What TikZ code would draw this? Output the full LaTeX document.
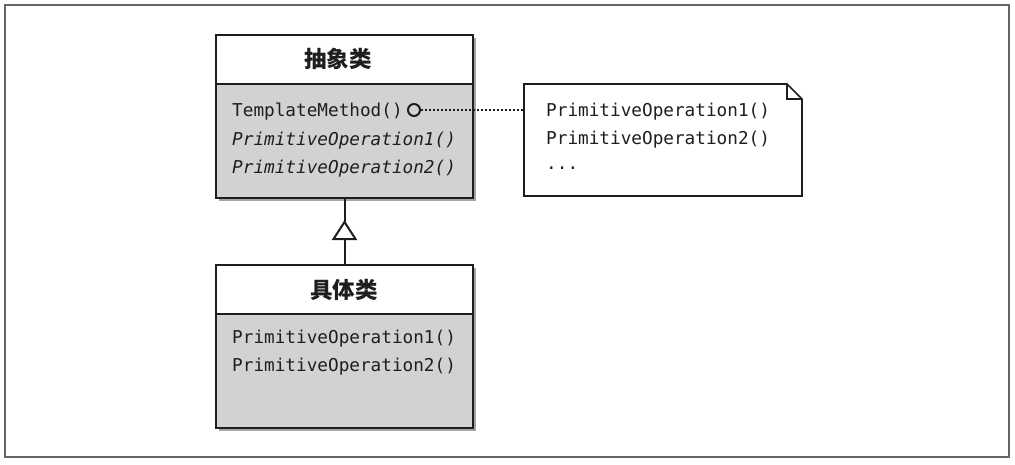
\documentclass[tikz,border=0pt]{standalone}
\usepackage{fontspec}
\setmonofont{DejaVu Sans Mono}
\newfontfamily\cjk{Noto Sans CJK SC}
\usetikzlibrary{shadows,calc}
\definecolor{boxgray}{HTML}{D2D2D2}
\definecolor{ink}{HTML}{1E1E1E}
\tikzset{
  classbox/.style={draw=ink, line width=2pt, fill=boxgray, minimum width=257pt, anchor=north west, inner sep=0pt,
    drop shadow={shadow xshift=3pt, shadow yshift=-3pt, opacity=0.5, fill=black!70}},
  header/.style={draw=ink, line width=2pt, fill=white, minimum width=257pt, minimum height=49pt, anchor=north west, inner sep=0pt},
  title/.style={font=\cjk\bfseries\fontsize{22.5}{26}\selectfont, text=ink},
  member/.style={font=\ttfamily\fontsize{17.7}{20}\selectfont, text=ink, anchor=west, inner sep=0pt},
  imember/.style={member, font=\ttfamily\itshape\fontsize{17.7}{20}\selectfont},
}
\begin{document}
\begin{tikzpicture}[x=1pt,y=-1pt]
\useasboundingbox (0,0) rectangle (1015,464);
\draw[draw=black!60, line width=1.2pt] (5,5) rectangle (1009,457);
% abstract class
\node[classbox, minimum height=163pt] (abs) at (215,34) {};
\node[header] (absh) at (215,34) {};
\node[title] (abst) at (338,59) {抽象类};
\node[member] (m1) at (232,112) {TemplateMethod()};
\node[imember] (m2) at (232,141) {PrimitiveOperation1()};
\node[imember] (m3) at (232,169) {PrimitiveOperation2()};
% concrete class
\node[classbox, minimum height=163pt] (conc) at (215,264) {};
\node[header] (conch) at (215,264) {};
\node[title] (conct) at (344,290) {具体类};
\node[member] (c1) at (232,339) {PrimitiveOperation1()};
\node[member] (c2) at (232,367) {PrimitiveOperation2()};
% note
\draw[draw=ink, line width=1.6pt, fill=white] (524,84) -- (787,84) -- (802,99) -- (802,196) -- (524,196) -- cycle;
\draw[draw=ink, line width=1.6pt] (787,84) -- (787,99) -- (802,99);
\node[inner sep=0pt, minimum width=278pt, minimum height=112pt, anchor=north west] (note) at (524,84) {};
\node[member] (n1) at (546,112) {PrimitiveOperation1()};
\node[member] (n2) at (546,140) {PrimitiveOperation2()};
\node[member] (n3) at (546,168) {...};
% connector
\node[circle, draw=ink, line width=2pt, minimum size=12pt, inner sep=0pt, fill=boxgray] (circ) at (414,110) {};
\draw[ink, line width=1.8pt, dash pattern=on 1.8pt off 2.2pt] (circ.east) -- (circ.east -| note.west);
% inheritance
\draw[ink, line width=2pt] (conc.north) -- (abs.south);
\draw[ink, line width=2pt, fill=white, line join=miter] ($(abs.south)+(0,23)$) -- ++(-11,17) -- ++(22,0) -- cycle;
\end{tikzpicture}
\end{document}
